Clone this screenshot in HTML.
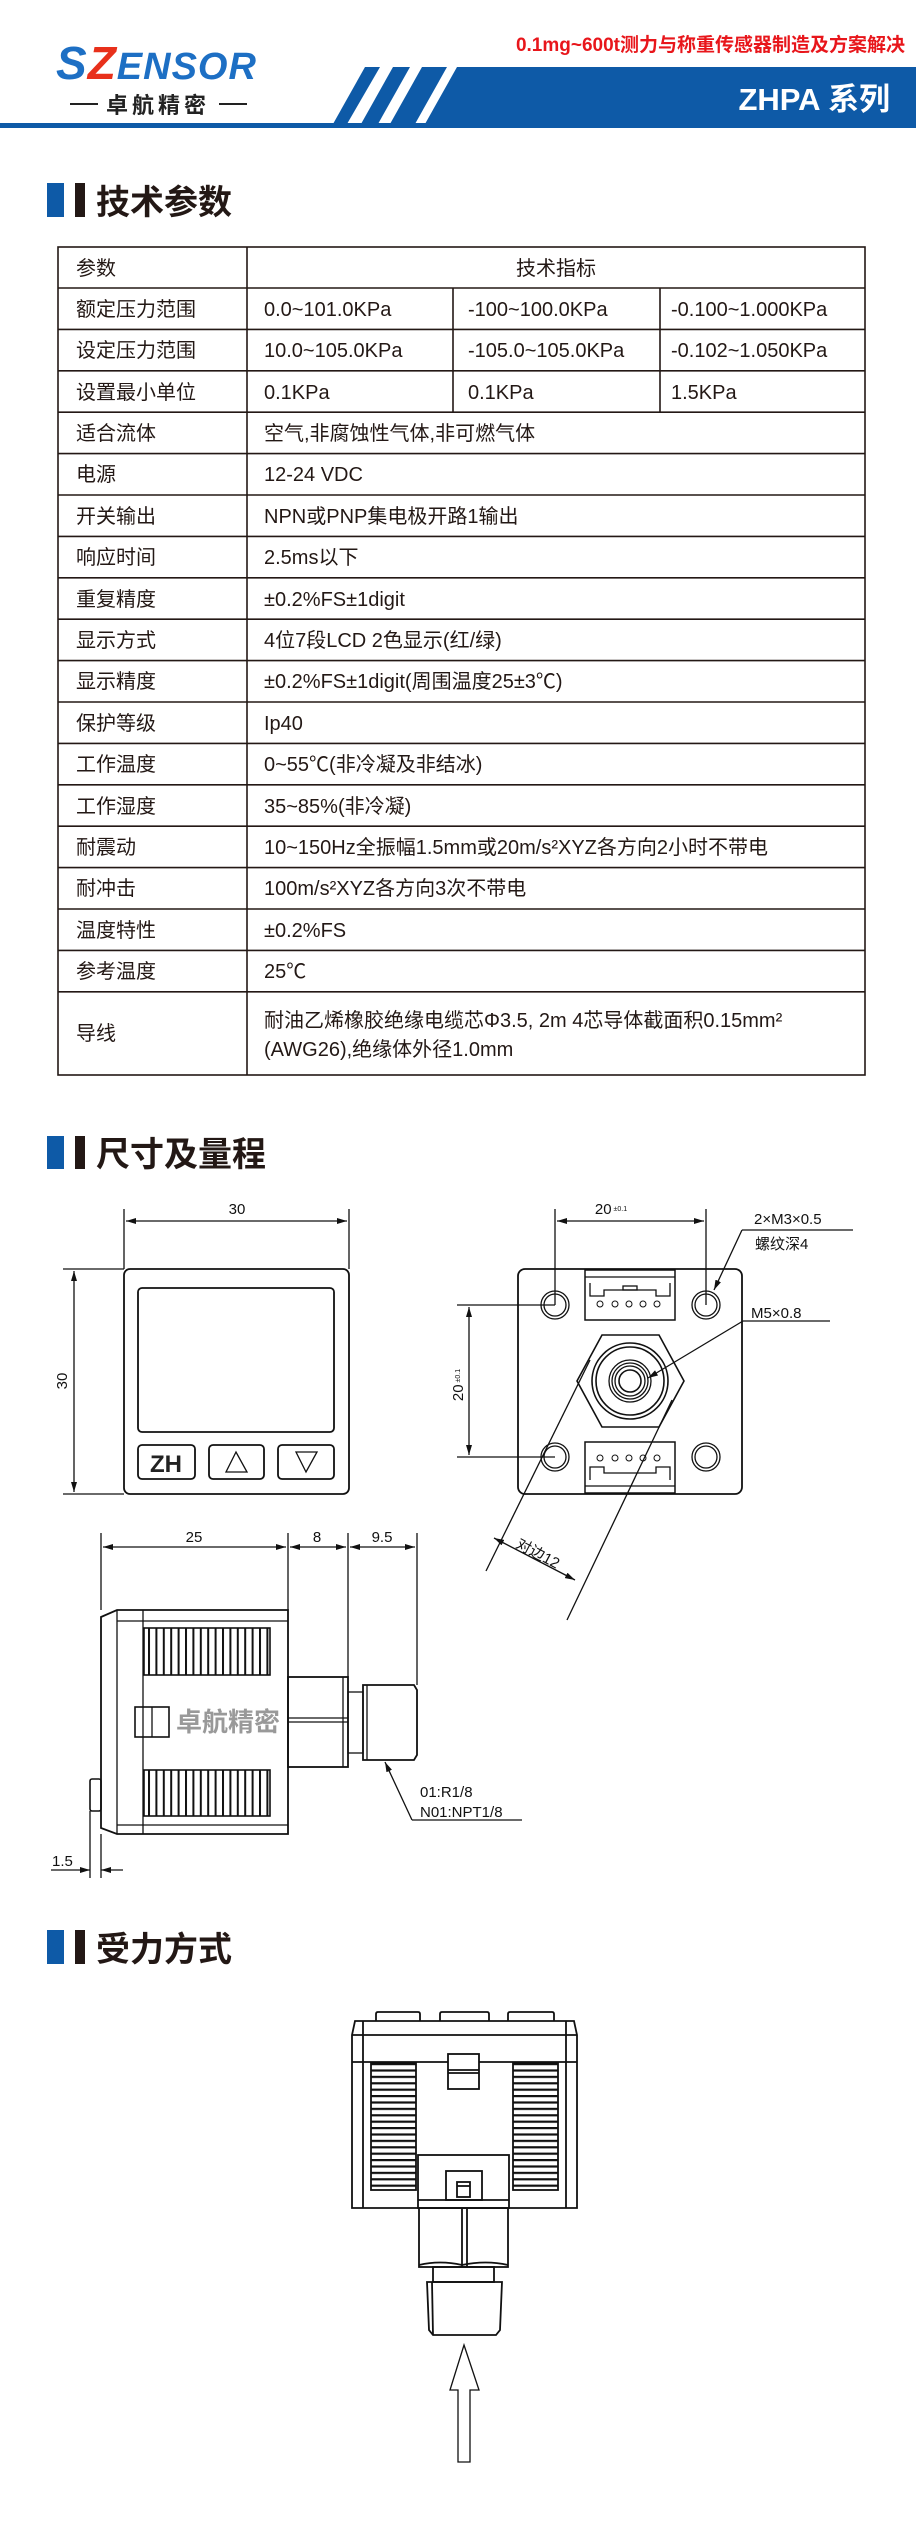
<!DOCTYPE html>
<html><head><meta charset="utf-8"><style>
html,body{margin:0;padding:0;background:#fff;}
svg{display:block;}
text{font-family:"Liberation Sans","Noto Sans CJK SC",sans-serif;}
</style></head><body>
<svg width="916" height="2530" viewBox="0 0 916 2530" xmlns="http://www.w3.org/2000/svg">
<defs>
<pattern id="vf" x="0" y="0" width="7.4" height="10" patternUnits="userSpaceOnUse"><rect x="0" y="0" width="2" height="10" fill="#111"/></pattern>
<pattern id="hf" x="0" y="2063" width="10" height="6.4" patternUnits="userSpaceOnUse"><rect x="0" y="0" width="10" height="2.2" fill="#111"/></pattern>
<marker id="ar" viewBox="0 0 10 6" refX="10" refY="3" markerWidth="10" markerHeight="6" orient="auto-start-reverse" markerUnits="userSpaceOnUse"><path d="M0,0 L10,3 L0,6 Z" fill="#111"/></marker>
</defs>

<!-- HEADER -->
<text x="905" y="51" text-anchor="end" font-size="19" font-weight="bold" fill="#e8161b">0.1mg~600t测力与称重传感器制造及方案解决</text>
<rect x="0" y="123" width="916" height="5" fill="#0e5aa7"/>
<polygon points="365,67 380,67 347,124 333,124" fill="#0e5aa7"/>
<polygon points="393,67 410,67 378,124 361,124" fill="#0e5aa7"/>
<polygon points="422,67 447,67 415,124 390,124" fill="#0e5aa7"/>
<polygon points="457,67 916,67 916,124 425,124" fill="#0e5aa7"/>
<text x="890" y="110" text-anchor="end" font-size="31" font-weight="bold" fill="#fff">ZHPA 系列</text>
<text x="56" y="79" font-size="46" font-weight="bold" font-style="italic" fill="#1d6fc4" letter-spacing="1"><tspan>S</tspan><tspan fill="#e8301b">Z</tspan><tspan font-size="38">ENSOR</tspan></text>
<line x1="70" y1="104" x2="98" y2="104" stroke="#222" stroke-width="2"/>
<line x1="219" y1="104" x2="247" y2="104" stroke="#222" stroke-width="2"/>
<text x="158" y="113" text-anchor="middle" font-size="22" font-weight="bold" fill="#222" letter-spacing="4">卓航精密</text>

<!-- Section 1 -->
<rect x="47" y="183" width="17" height="34" fill="#0e5aa7"/>
<rect x="75" y="183" width="10" height="34" fill="#231815"/>
<text x="96" y="214" font-size="34" font-weight="bold" fill="#231815">技术参数</text>

<!-- TABLE -->
<g stroke="#231815" stroke-width="1.6" fill="none">
<rect x="58" y="247" width="807" height="828"/>
<line x1="247" y1="247" x2="247" y2="1075"/>
<line x1="453" y1="288" x2="453" y2="412"/>
<line x1="660" y1="288" x2="660" y2="412"/>
<line x1="58" y1="288" x2="865" y2="288"/>
<line x1="58" y1="329.4" x2="865" y2="329.4"/>
<line x1="58" y1="370.8" x2="865" y2="370.8"/>
<line x1="58" y1="412.2" x2="865" y2="412.2"/>
<line x1="58" y1="453.6" x2="865" y2="453.6"/>
<line x1="58" y1="495" x2="865" y2="495"/>
<line x1="58" y1="536.4" x2="865" y2="536.4"/>
<line x1="58" y1="577.8" x2="865" y2="577.8"/>
<line x1="58" y1="619.2" x2="865" y2="619.2"/>
<line x1="58" y1="660.6" x2="865" y2="660.6"/>
<line x1="58" y1="702" x2="865" y2="702"/>
<line x1="58" y1="743.4" x2="865" y2="743.4"/>
<line x1="58" y1="784.8" x2="865" y2="784.8"/>
<line x1="58" y1="826.2" x2="865" y2="826.2"/>
<line x1="58" y1="867.6" x2="865" y2="867.6"/>
<line x1="58" y1="909" x2="865" y2="909"/>
<line x1="58" y1="950.4" x2="865" y2="950.4"/>
<line x1="58" y1="991.8" x2="865" y2="991.8"/>
</g>
<g font-size="20" fill="#231815">
<text x="76" y="275">参数</text><text x="556" y="275" text-anchor="middle">技术指标</text>
<text x="76" y="316">额定压力范围</text><text x="264" y="316">0.0~101.0KPa</text><text x="468" y="316">-100~100.0KPa</text><text x="671" y="316">-0.100~1.000KPa</text>
<text x="76" y="357">设定压力范围</text><text x="264" y="357">10.0~105.0KPa</text><text x="468" y="357">-105.0~105.0KPa</text><text x="671" y="357">-0.102~1.050KPa</text>
<text x="76" y="399">设置最小单位</text><text x="264" y="399">0.1KPa</text><text x="468" y="399">0.1KPa</text><text x="671" y="399">1.5KPa</text>
<text x="76" y="440">适合流体</text><text x="264" y="440">空气,非腐蚀性气体,非可燃气体</text>
<text x="76" y="481">电源</text><text x="264" y="481">12-24 VDC</text>
<text x="76" y="523">开关输出</text><text x="264" y="523">NPN或PNP集电极开路1输出</text>
<text x="76" y="564">响应时间</text><text x="264" y="564">2.5ms以下</text>
<text x="76" y="606">重复精度</text><text x="264" y="606">±0.2%FS±1digit</text>
<text x="76" y="647">显示方式</text><text x="264" y="647">4位7段LCD 2色显示(红/绿)</text>
<text x="76" y="688">显示精度</text><text x="264" y="688">±0.2%FS±1digit(周围温度25±3℃)</text>
<text x="76" y="730">保护等级</text><text x="264" y="730">Ip40</text>
<text x="76" y="771">工作温度</text><text x="264" y="771">0~55℃(非冷凝及非结冰)</text>
<text x="76" y="813">工作湿度</text><text x="264" y="813">35~85%(非冷凝)</text>
<text x="76" y="854">耐震动</text><text x="264" y="854">10~150Hz全振幅1.5mm或20m/s²XYZ各方向2小时不带电</text>
<text x="76" y="895">耐冲击</text><text x="264" y="895">100m/s²XYZ各方向3次不带电</text>
<text x="76" y="937">温度特性</text><text x="264" y="937">±0.2%FS</text>
<text x="76" y="978">参考温度</text><text x="264" y="978">25℃</text>
<text x="76" y="1040">导线</text>
<text x="264" y="1027">耐油乙烯橡胶绝缘电缆芯Φ3.5, 2m 4芯导体截面积0.15mm²</text>
<text x="264" y="1056">(AWG26),绝缘体外径1.0mm</text>
</g>

<!-- Section 2 -->
<rect x="47" y="1136" width="17" height="33" fill="#0e5aa7"/>
<rect x="75" y="1136" width="10" height="33" fill="#231815"/>
<text x="96" y="1166" font-size="34" font-weight="bold" fill="#231815">尺寸及量程</text>

<g stroke="#111" fill="none" stroke-width="1.3">
<!-- front view -->
<rect x="124" y="1269" width="225" height="225" rx="6" stroke-width="1.8"/>
<rect x="138" y="1288" width="196" height="144" rx="4" stroke-width="1.8"/>
<rect x="138" y="1445" width="57" height="34" rx="4" stroke-width="1.8"/>
<rect x="209" y="1445" width="55" height="34" rx="4" stroke-width="1.8"/>
<rect x="278" y="1445" width="56" height="34" rx="4" stroke-width="1.8"/>
<polygon points="236,1452 226,1472 247,1472"/>
<polygon points="296,1452 317,1452 306,1472"/>
<line x1="124" y1="1209" x2="124" y2="1269"/><line x1="349" y1="1209" x2="349" y2="1269"/>
<line x1="126" y1="1221" x2="347" y2="1221" marker-start="url(#ar)" marker-end="url(#ar)"/>
<line x1="63" y1="1269" x2="124" y2="1269"/><line x1="63" y1="1494" x2="124" y2="1494"/>
<line x1="74" y1="1271" x2="74" y2="1492" marker-start="url(#ar)" marker-end="url(#ar)"/>

<!-- rear view -->
<rect x="518" y="1269" width="224" height="225" rx="7" stroke-width="1.8"/>
<circle cx="555" cy="1305" r="14"/><circle cx="555" cy="1305" r="11"/>
<circle cx="706" cy="1305" r="14"/><circle cx="706" cy="1305" r="11"/>
<circle cx="555" cy="1457" r="14"/><circle cx="555" cy="1457" r="11"/>
<circle cx="706" cy="1457" r="14"/><circle cx="706" cy="1457" r="11"/>
<rect x="585" y="1270" width="90" height="50" stroke-width="1.5"/>
<line x1="585" y1="1277" x2="675" y2="1277"/>
<polyline points="590,1283 590,1296 604,1296 604,1290 656,1290 656,1296 670,1296 670,1283"/>
<rect x="623" y="1286" width="14" height="4"/>
<rect x="585" y="1442" width="90" height="51" stroke-width="1.5"/>
<line x1="585" y1="1486" x2="675" y2="1486"/>
<polyline points="590,1480 590,1467 604,1467 604,1473 656,1473 656,1467 670,1467 670,1480"/>
<g stroke-width="1">
<circle cx="600" cy="1304" r="3"/><circle cx="615" cy="1304" r="3"/><circle cx="629" cy="1304" r="3"/><circle cx="643" cy="1304" r="3"/><circle cx="657" cy="1304" r="3"/>
<circle cx="600" cy="1458" r="3"/><circle cx="615" cy="1458" r="3"/><circle cx="629" cy="1458" r="3"/><circle cx="643" cy="1458" r="3"/><circle cx="657" cy="1458" r="3"/>
</g>
<polygon points="602,1335 659,1335 684,1381 659,1427 602,1427 577,1381" stroke-width="1.6"/>
<circle cx="630" cy="1381" r="38" stroke-width="1.6"/>
<circle cx="630" cy="1381" r="34" stroke-width="1.6"/>
<circle cx="630" cy="1381" r="21"/><circle cx="630" cy="1381" r="18"/><circle cx="630" cy="1381" r="15"/><circle cx="630" cy="1381" r="11" stroke-width="1.6"/>
<line x1="555" y1="1209" x2="555" y2="1305"/><line x1="706" y1="1209" x2="706" y2="1305"/>
<line x1="557" y1="1221" x2="704" y2="1221" marker-start="url(#ar)" marker-end="url(#ar)"/>
<line x1="457" y1="1305" x2="555" y2="1305"/><line x1="457" y1="1457" x2="555" y2="1457"/>
<line x1="469" y1="1307" x2="469" y2="1455" marker-start="url(#ar)" marker-end="url(#ar)"/>
<line x1="853" y1="1230" x2="742" y2="1230"/>
<line x1="742" y1="1230" x2="714" y2="1290" marker-end="url(#ar)"/>
<line x1="830" y1="1321" x2="743" y2="1321"/>
<line x1="743" y1="1321" x2="648" y2="1378" marker-end="url(#ar)"/>
<line x1="590" y1="1360" x2="486" y2="1571"/>
<line x1="672" y1="1400" x2="567" y2="1620"/>
<line x1="494" y1="1538" x2="575" y2="1580" marker-start="url(#ar)" marker-end="url(#ar)"/>

<!-- side view -->
<polygon points="101,1617 117,1610 288,1610 288,1834 117,1834 101,1828" stroke-width="1.8"/>
<line x1="117" y1="1610" x2="117" y2="1834"/>
<line x1="143" y1="1610" x2="143" y2="1834"/>
<line x1="117" y1="1621" x2="288" y2="1621"/>
<line x1="117" y1="1825" x2="288" y2="1825"/>
<rect x="144" y="1628" width="126" height="47" stroke-width="1.6"/>
<rect x="144" y="1770" width="126" height="46" stroke-width="1.6"/>
<rect x="135" y="1707" width="34" height="30" stroke-width="1.6"/>
<line x1="152" y1="1707" x2="152" y2="1737"/>
<rect x="90" y="1779" width="11" height="32" rx="2" stroke-width="1.6"/>
<rect x="288" y="1677" width="60" height="90" stroke-width="1.8"/>
<line x1="288" y1="1718" x2="348" y2="1718"/><line x1="288" y1="1722" x2="348" y2="1722"/>
<line x1="343" y1="1677" x2="343" y2="1767"/>
<rect x="348" y="1692" width="15" height="61"/>
<polygon points="363,1685 414,1685 417,1690 417,1755 414,1760 363,1760" stroke-width="1.8"/>
<line x1="367" y1="1685" x2="367" y2="1760"/>
<line x1="101" y1="1533" x2="101" y2="1610"/>
<line x1="288" y1="1533" x2="288" y2="1610"/>
<line x1="348" y1="1533" x2="348" y2="1677"/>
<line x1="417" y1="1533" x2="417" y2="1685"/>
<line x1="103" y1="1547" x2="286" y2="1547" marker-start="url(#ar)" marker-end="url(#ar)"/>
<line x1="290" y1="1547" x2="346" y2="1547" marker-start="url(#ar)" marker-end="url(#ar)"/>
<line x1="350" y1="1547" x2="415" y2="1547" marker-start="url(#ar)" marker-end="url(#ar)"/>
<line x1="90" y1="1811" x2="90" y2="1878"/><line x1="101" y1="1834" x2="101" y2="1878"/>
<line x1="51" y1="1870" x2="90" y2="1870" marker-end="url(#ar)"/>
<line x1="123" y1="1870" x2="101" y2="1870" marker-end="url(#ar)"/>
<line x1="522" y1="1820" x2="412" y2="1820"/>
<line x1="412" y1="1820" x2="385" y2="1762" marker-end="url(#ar)"/>
</g>
<rect x="144" y="1628" width="126" height="47" fill="url(#vf)"/>
<rect x="144" y="1770" width="126" height="46" fill="url(#vf)"/>
<text x="176" y="1731" font-size="26" font-weight="bold" fill="#999">卓航精密</text>
<text x="166" y="1472" text-anchor="middle" font-size="24" font-weight="bold" fill="#222">ZH</text>

<g font-size="15" fill="#111">
<text x="237" y="1214" text-anchor="middle">30</text>
<text transform="translate(67,1381) rotate(-90)" text-anchor="middle">30</text>
<text x="611" y="1214" text-anchor="middle">20<tspan font-size="7" dx="2" dy="-3">±0.1</tspan></text>
<text transform="translate(463,1385) rotate(-90)" text-anchor="middle">20<tspan font-size="7" dx="2" dy="-3">±0.1</tspan></text>
<text x="754" y="1224">2×M3×0.5</text>
<text x="755" y="1249">螺纹深4</text>
<text x="751" y="1318">M5×0.8</text>
<text transform="translate(515,1547) rotate(28)">对边12</text>
<text x="194" y="1542" text-anchor="middle">25</text>
<text x="317" y="1542" text-anchor="middle">8</text>
<text x="382" y="1542" text-anchor="middle">9.5</text>
<text x="52" y="1866">1.5</text>
<text x="420" y="1797">01:R1/8</text>
<text x="420" y="1817">N01:NPT1/8</text>
</g>

<!-- Section 3 -->
<rect x="47" y="1930" width="17" height="34" fill="#0e5aa7"/>
<rect x="75" y="1930" width="10" height="34" fill="#231815"/>
<text x="96" y="1961" font-size="34" font-weight="bold" fill="#231815">受力方式</text>

<rect x="371" y="2063" width="45" height="127" fill="url(#hf)"/>
<rect x="513" y="2063" width="45" height="127" fill="url(#hf)"/>
<g stroke="#111" fill="none" stroke-width="1.8">
<path d="M376,2021 V2014 Q376,2012 378,2012 H418 Q420,2012 420,2014 V2021"/>
<path d="M440,2021 V2014 Q440,2012 442,2012 H487 Q489,2012 489,2014 V2021"/>
<path d="M508,2021 V2014 Q508,2012 510,2012 H552 Q554,2012 554,2014 V2021"/>
<polygon points="355,2021 574,2021 577,2035 577,2208 352,2208 352,2035"/>
<line x1="352" y1="2035" x2="577" y2="2035"/>
<line x1="352" y1="2062" x2="577" y2="2062"/>
<line x1="363" y1="2021" x2="363" y2="2208"/>
<line x1="566" y1="2021" x2="566" y2="2208"/>
<rect x="371" y="2063" width="45" height="127"/>
<rect x="513" y="2063" width="45" height="127"/>
<rect x="448" y="2054" width="31" height="35" fill="#fff"/>
<line x1="448" y1="2070" x2="479" y2="2070"/><line x1="448" y1="2073" x2="479" y2="2073"/>
<rect x="418" y="2155" width="91" height="53" fill="#fff"/>
<line x1="418" y1="2200" x2="509" y2="2200"/>
<rect x="446" y="2171" width="36" height="29"/>
<rect x="457" y="2182" width="13" height="15"/>
<line x1="457" y1="2186" x2="470" y2="2186"/>
<rect x="419" y="2208" width="89" height="59"/>
<line x1="462" y1="2208" x2="462" y2="2267"/><line x1="467" y1="2208" x2="467" y2="2267"/>
<path d="M419,2265 Q440,2260 462,2265 Q486,2260 508,2265"/>
<rect x="433" y="2267" width="61" height="15"/>
<polygon points="427,2282 502,2282 500,2330 496,2335 433,2335 429,2330"/>
<line x1="432" y1="2282" x2="433" y2="2335"/>
<polygon points="464,2345 479,2390 470,2390 470,2462 458,2462 458,2390 450,2390" stroke-width="1.3"/>
</g>
</svg>
</body></html>
